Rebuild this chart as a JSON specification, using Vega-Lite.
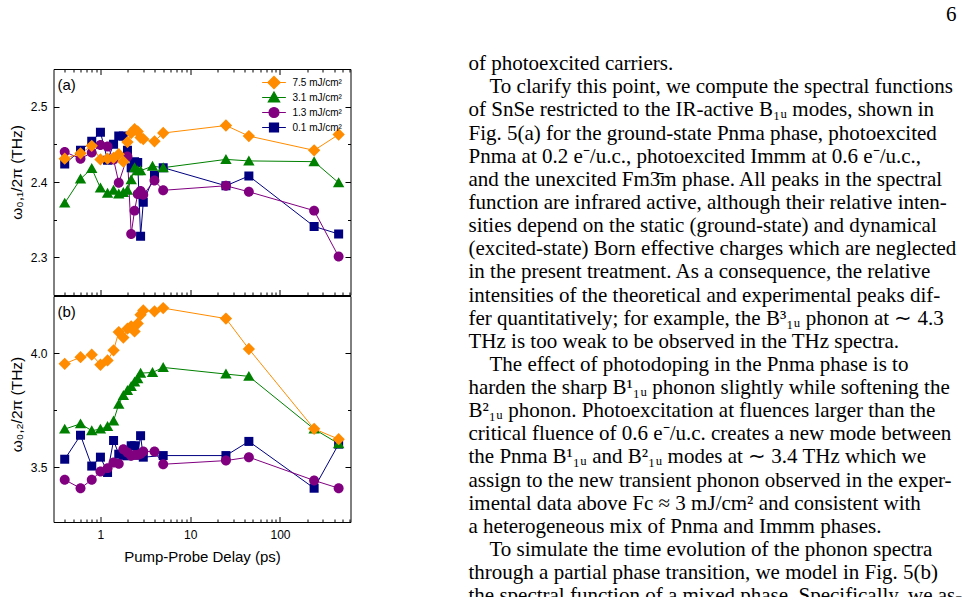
{
  "$schema": "https://vega.github.io/schema/vega-lite/v6.json",
  "background": "white",
  "padding": {"left": 8.5, "top": 0, "right": 0, "bottom": 0},
  "spacing": 117,
  "config": {
    "font": "Liberation Sans",
    "view": {"stroke": "black", "strokeWidth": 1},
    "axis": {
      "domain": false, "grid": false,
      "labelColor": "black", "titleColor": "black", "tickColor": "black", "tickWidth": 1,
      "labelFont": "Liberation Sans", "titleFont": "Liberation Sans",
      "labelFontSize": 12, "titleFontSize": 15, "titleFontWeight": "normal"
    },
    "title": {"font": "Liberation Sans", "fontWeight": "normal", "color": "black"}
  },
  "datasets": {
    "delays": [
      {"delay": 0.4, "fluence": "0.1 mJ/cm²", "w1": 2.424, "w2": 3.535},
      {"delay": 0.6, "fluence": "0.1 mJ/cm²", "w1": 2.442, "w2": 3.640},
      {"delay": 0.8, "fluence": "0.1 mJ/cm²", "w1": 2.454, "w2": 3.505},
      {"delay": 1.0, "fluence": "0.1 mJ/cm²", "w1": 2.466, "w2": 3.544},
      {"delay": 1.2, "fluence": "0.1 mJ/cm²", "w1": 2.429, "w2": 3.477},
      {"delay": 1.4, "fluence": "0.1 mJ/cm²", "w1": 2.450, "w2": 3.617},
      {"delay": 1.6, "fluence": "0.1 mJ/cm²", "w1": 2.461, "w2": 3.557},
      {"delay": 1.8, "fluence": "0.1 mJ/cm²", "w1": 2.461, "w2": 3.552},
      {"delay": 2.0, "fluence": "0.1 mJ/cm²", "w1": 2.442, "w2": 3.550},
      {"delay": 2.2, "fluence": "0.1 mJ/cm²", "w1": 2.419, "w2": 3.594},
      {"delay": 2.4, "fluence": "0.1 mJ/cm²", "w1": 2.427, "w2": 3.594},
      {"delay": 2.6, "fluence": "0.1 mJ/cm²", "w1": 2.426, "w2": 3.553},
      {"delay": 2.8, "fluence": "0.1 mJ/cm²", "w1": 2.328, "w2": 3.638},
      {"delay": 3.0, "fluence": "0.1 mJ/cm²", "w1": 2.373, "w2": 3.544},
      {"delay": 4, "fluence": "0.1 mJ/cm²", "w1": 2.409, "w2": null},
      {"delay": 5, "fluence": "0.1 mJ/cm²", "w1": 2.419, "w2": 3.551},
      {"delay": 25, "fluence": "0.1 mJ/cm²", "w1": 2.395, "w2": 3.551},
      {"delay": 45, "fluence": "0.1 mJ/cm²", "w1": 2.408, "w2": 3.613},
      {"delay": 240, "fluence": "0.1 mJ/cm²", "w1": 2.341, "w2": 3.408},
      {"delay": 450, "fluence": "0.1 mJ/cm²", "w1": 2.331, "w2": 3.601},

      {"delay": 0.4, "fluence": "1.3 mJ/cm²", "w1": 2.440, "w2": 3.445},
      {"delay": 0.6, "fluence": "1.3 mJ/cm²", "w1": 2.431, "w2": 3.408},
      {"delay": 0.8, "fluence": "1.3 mJ/cm²", "w1": 2.439, "w2": 3.445},
      {"delay": 1.0, "fluence": "1.3 mJ/cm²", "w1": 2.449, "w2": 3.481},
      {"delay": 1.2, "fluence": "1.3 mJ/cm²", "w1": 2.447, "w2": 3.496},
      {"delay": 1.4, "fluence": "1.3 mJ/cm²", "w1": 2.430, "w2": 3.521},
      {"delay": 1.6, "fluence": "1.3 mJ/cm²", "w1": 2.399, "w2": 3.515},
      {"delay": 1.8, "fluence": "1.3 mJ/cm²", "w1": null, "w2": 3.579},
      {"delay": 2.0, "fluence": "1.3 mJ/cm²", "w1": 2.434, "w2": 3.564},
      {"delay": 2.2, "fluence": "1.3 mJ/cm²", "w1": 2.331, "w2": 3.550},
      {"delay": 2.4, "fluence": "1.3 mJ/cm²", "w1": 2.362, "w2": 3.554},
      {"delay": 2.6, "fluence": "1.3 mJ/cm²", "w1": 2.384, "w2": 3.554},
      {"delay": 2.8, "fluence": "1.3 mJ/cm²", "w1": 2.388, "w2": 3.559},
      {"delay": 3.0, "fluence": "1.3 mJ/cm²", "w1": 2.383, "w2": 3.569},
      {"delay": 4, "fluence": "1.3 mJ/cm²", "w1": 2.402, "w2": 3.569},
      {"delay": 5, "fluence": "1.3 mJ/cm²", "w1": 2.389, "w2": 3.513},
      {"delay": 25, "fluence": "1.3 mJ/cm²", "w1": 2.395, "w2": 3.529},
      {"delay": 45, "fluence": "1.3 mJ/cm²", "w1": 2.387, "w2": 3.544},
      {"delay": 240, "fluence": "1.3 mJ/cm²", "w1": 2.362, "w2": 3.442},
      {"delay": 450, "fluence": "1.3 mJ/cm²", "w1": 2.301, "w2": 3.408},

      {"delay": 0.4, "fluence": "3.1 mJ/cm²", "w1": 2.372, "w2": 3.667},
      {"delay": 0.6, "fluence": "3.1 mJ/cm²", "w1": 2.404, "w2": 3.690},
      {"delay": 0.8, "fluence": "3.1 mJ/cm²", "w1": 2.418, "w2": 3.660},
      {"delay": 1.0, "fluence": "3.1 mJ/cm²", "w1": 2.392, "w2": 3.667},
      {"delay": 1.2, "fluence": "3.1 mJ/cm²", "w1": 2.385, "w2": 3.678},
      {"delay": 1.4, "fluence": "3.1 mJ/cm²", "w1": 2.389, "w2": 3.703},
      {"delay": 1.6, "fluence": "3.1 mJ/cm²", "w1": 2.384, "w2": 3.776},
      {"delay": 1.8, "fluence": "3.1 mJ/cm²", "w1": 2.386, "w2": 3.814},
      {"delay": 2.0, "fluence": "3.1 mJ/cm²", "w1": 2.389, "w2": 3.836},
      {"delay": 2.2, "fluence": "3.1 mJ/cm²", "w1": 2.403, "w2": 3.854},
      {"delay": 2.4, "fluence": "3.1 mJ/cm²", "w1": 2.419, "w2": 3.873},
      {"delay": 2.6, "fluence": "3.1 mJ/cm²", "w1": 2.415, "w2": 3.888},
      {"delay": 2.8, "fluence": "3.1 mJ/cm²", "w1": 2.415, "w2": 3.912},
      {"delay": 3.8, "fluence": "3.1 mJ/cm²", "w1": 2.421, "w2": 3.915},
      {"delay": 5, "fluence": "3.1 mJ/cm²", "w1": 2.419, "w2": 3.937},
      {"delay": 25, "fluence": "3.1 mJ/cm²", "w1": 2.430, "w2": 3.908},
      {"delay": 45, "fluence": "3.1 mJ/cm²", "w1": 2.428, "w2": 3.898},
      {"delay": 240, "fluence": "3.1 mJ/cm²", "w1": 2.427, "w2": 3.667},
      {"delay": 450, "fluence": "3.1 mJ/cm²", "w1": 2.399, "w2": 3.603},

      {"delay": 0.4, "fluence": "7.5 mJ/cm²", "w1": 2.431, "w2": 3.953},
      {"delay": 0.6, "fluence": "7.5 mJ/cm²", "w1": 2.438, "w2": 3.982},
      {"delay": 0.8, "fluence": "7.5 mJ/cm²", "w1": 2.448, "w2": 3.993},
      {"delay": 1.0, "fluence": "7.5 mJ/cm²", "w1": 2.430, "w2": 3.949},
      {"delay": 1.2, "fluence": "7.5 mJ/cm²", "w1": 2.431, "w2": 3.968},
      {"delay": 1.4, "fluence": "7.5 mJ/cm²", "w1": 2.432, "w2": 4.012},
      {"delay": 1.6, "fluence": "7.5 mJ/cm²", "w1": 2.437, "w2": 4.092},
      {"delay": 1.8, "fluence": "7.5 mJ/cm²", "w1": 2.427, "w2": 4.068},
      {"delay": 2.0, "fluence": "7.5 mJ/cm²", "w1": 2.453, "w2": 4.107},
      {"delay": 2.2, "fluence": "7.5 mJ/cm²", "w1": 2.465, "w2": 4.117},
      {"delay": 2.4, "fluence": "7.5 mJ/cm²", "w1": 2.470, "w2": 4.095},
      {"delay": 2.6, "fluence": "7.5 mJ/cm²", "w1": 2.467, "w2": 4.129},
      {"delay": 2.8, "fluence": "7.5 mJ/cm²", "w1": 2.459, "w2": 4.168},
      {"delay": 3.0, "fluence": "7.5 mJ/cm²", "w1": 2.457, "w2": 4.187},
      {"delay": 4, "fluence": "7.5 mJ/cm²", "w1": 2.454, "w2": 4.183},
      {"delay": 5, "fluence": "7.5 mJ/cm²", "w1": 2.465, "w2": 4.197},
      {"delay": 25, "fluence": "7.5 mJ/cm²", "w1": 2.475, "w2": 4.151},
      {"delay": 45, "fluence": "7.5 mJ/cm²", "w1": 2.461, "w2": 4.018},
      {"delay": 240, "fluence": "7.5 mJ/cm²", "w1": 2.442, "w2": 3.668},
      {"delay": 450, "fluence": "7.5 mJ/cm²", "w1": 2.463, "w2": 3.623}
    ],
    "page": [
      {"line": 0, "text": "of photoexcited carriers."},
      {"line": 1, "text": "\u200b\u2003To clarify this point, we compute the spectral functions"},
      {"line": 2, "text": "of SnSe restricted to the IR-active B₁ᵤ modes, shown in"},
      {"line": 3, "text": "Fig. 5(a) for the ground-state Pnma phase, photoexcited"},
      {"line": 4, "text": "Pnma at 0.2 e⁻/u.c., photoexcited Immm at 0.6 e⁻/u.c.,"},
      {"line": 5, "text": "and the unexcited Fm3̄m phase. All peaks in the spectral"},
      {"line": 6, "text": "function are infrared active, although their relative inten-"},
      {"line": 7, "text": "sities depend on the static (ground-state) and dynamical"},
      {"line": 8, "text": "(excited-state) Born effective charges which are neglected"},
      {"line": 9, "text": "in the present treatment. As a consequence, the relative"},
      {"line": 10, "text": "intensities of the theoretical and experimental peaks dif-"},
      {"line": 11, "text": "fer quantitatively; for example, the B³₁ᵤ phonon at ∼ 4.3"},
      {"line": 12, "text": "THz is too weak to be observed in the THz spectra."},
      {"line": 13, "text": "\u200b\u2003The effect of photodoping in the Pnma phase is to"},
      {"line": 14, "text": "harden the sharp B¹₁ᵤ phonon slightly while softening the"},
      {"line": 15, "text": "B²₁ᵤ phonon. Photoexcitation at fluences larger than the"},
      {"line": 16, "text": "critical fluence of 0.6 e⁻/u.c. creates a new mode between"},
      {"line": 17, "text": "the Pnma B¹₁ᵤ and B²₁ᵤ modes at ∼ 3.4 THz which we"},
      {"line": 18, "text": "assign to the new transient phonon observed in the exper-"},
      {"line": 19, "text": "imental data above Fc ≈ 3 mJ/cm² and consistent with"},
      {"line": 20, "text": "a heterogeneous mix of Pnma and Immm phases."},
      {"line": 21, "text": "\u200b\u2003To simulate the time evolution of the phonon spectra"},
      {"line": 22, "text": "through a partial phase transition, we model in Fig. 5(b)"},
      {"line": 23, "text": "the spectral function of a mixed phase. Specifically, we as-"}
    ]
  },
  "hconcat": [
    {
      "spacing": -2,
      "resolve": {"scale": {"x": "independent", "y": "independent", "color": "independent", "shape": "independent", "stroke": "independent"}},
      "vconcat": [
        {
          "width": 297,
          "height": 226,
          "data": {"name": "delays"},
          "transform": [{"filter": "isValid(datum.w1)"}],
          "resolve": {"scale": {"x": "independent", "y": "independent"}},
          "layer": [
            {
              "layer": [
                {
                  "mark": {"type": "line", "strokeWidth": 1},
                  "encoding": {
                    "x": {
                      "field": "delay", "type": "quantitative",
                      "scale": {"type": "log", "domain": [0.3, 610], "nice": false},
                      "axis": {
                        "values": [0.4, 0.5, 0.6, 0.7, 0.8, 0.9, 1, 2, 3, 4, 5, 6, 7, 8, 9, 10, 20, 30, 40, 50, 60, 70, 80, 90, 100, 200, 300, 400, 500, 600],
                        "labels": false, "title": null,
                        "tickSize": {"condition": {"test": "datum.value == 1 || datum.value == 10 || datum.value == 100", "value": -5.5}, "value": -3},
                        "minExtent": 0, "maxExtent": 0
                      }
                    },
                    "y": {
                      "field": "w1", "type": "quantitative",
                      "scale": {"domain": [2.25, 2.55], "zero": false, "nice": false},
                      "axis": {
                        "values": [2.3, 2.35, 2.4, 2.45, 2.5],
                        "format": ".1f",
                        "labelExpr": "abs(datum.value * 10 - round(datum.value * 10)) < 0.01 ? datum.label : ''",
                        "tickSize": {"condition": {"test": "abs(datum.value * 10 - round(datum.value * 10)) < 0.01", "value": -5.5}, "value": -3},
                        "labelPadding": 12,
                        "title": "ω₀,₁/2π (THz)", "titlePadding": 0, "titleFontSize": 15.5, "titleY": 103,
                        "minExtent": 29, "maxExtent": 29
                      }
                    },
                    "stroke": {
                      "field": "fluence", "type": "nominal",
                      "scale": {"domain": ["7.5 mJ/cm²", "3.1 mJ/cm²", "1.3 mJ/cm²", "0.1 mJ/cm²"], "range": ["#ff8c00", "#008000", "#800080", "#000080"]}
                    }
                  }
                },
                {
                  "mark": {"type": "point", "filled": true, "size": 90, "opacity": 1},
                  "encoding": {
                    "x": {"field": "delay", "type": "quantitative"},
                    "y": {"field": "w1", "type": "quantitative"},
                    "color": {
                      "field": "fluence", "type": "nominal",
                      "scale": {"domain": ["7.5 mJ/cm²", "3.1 mJ/cm²", "1.3 mJ/cm²", "0.1 mJ/cm²"], "range": ["#ff8c00", "#008000", "#800080", "#000080"]},
                      "legend": {
                        "title": null, "orient": "top-right", "offset": 8, "padding": 0,
                        "labelFont": "Liberation Sans", "labelFontSize": 10, "labelColor": "black",
                        "labelOffset": 13, "gridAlign": "all", "rowPadding": -6.8, "symbolSize": 90, "symbolStrokeWidth": 1.2
                      }
                    },
                    "shape": {
                      "field": "fluence", "type": "nominal",
                      "scale": {
                        "domain": ["7.5 mJ/cm²", "3.1 mJ/cm²", "1.3 mJ/cm²", "0.1 mJ/cm²"],
                        "range": [
                          "M0,-1.3L1.3,0L0,1.3L-1.3,0Z M-2.5,0H2.5",
                          "M0,-1.15L1.2,0.95L-1.2,0.95Z M-2.5,0H2.5",
                          "M1.05,0A1.05,1.05,0,1,1,-1.05,0A1.05,1.05,0,1,1,1.05,0Z M-2.5,0H2.5",
                          "M-0.95,-0.95H0.95V0.95H-0.95Z M-2.5,0H2.5"
                        ]
                      }
                    }
                  }
                },
                {
                  "data": {"values": [{"panel": "(a)"}]},
                  "mark": {"type": "text", "align": "left", "baseline": "top", "dx": 4, "dy": 9, "font": "Liberation Sans", "fontSize": 15, "color": "black"},
                  "encoding": {
                    "x": {"datum": 0.3, "type": "quantitative"},
                    "y": {"datum": 2.55, "type": "quantitative"},
                    "text": {"field": "panel", "type": "nominal"}
                  }
                }
              ]
            },
            {
              "mark": {"type": "point", "opacity": 0},
              "encoding": {
                "x": {
                  "field": "delay", "type": "quantitative",
                  "scale": {"type": "log", "domain": [0.3, 610], "nice": false},
                  "axis": {
                    "orient": "top",
                    "values": [0.4, 0.5, 0.6, 0.7, 0.8, 0.9, 1, 2, 3, 4, 5, 6, 7, 8, 9, 10, 20, 30, 40, 50, 60, 70, 80, 90, 100, 200, 300, 400, 500, 600],
                    "labels": false, "title": null,
                    "tickSize": {"condition": {"test": "datum.value == 1 || datum.value == 10 || datum.value == 100", "value": -5.5}, "value": -3},
                    "minExtent": 68.3, "maxExtent": 68.3
                  }
                },
                "y": {
                  "field": "w1", "type": "quantitative",
                  "scale": {"domain": [2.25, 2.55], "zero": false, "nice": false},
                  "axis": {
                    "orient": "right",
                    "values": [2.3, 2.35, 2.4, 2.45, 2.5],
                    "labels": false, "title": null,
                    "tickSize": {"condition": {"test": "abs(datum.value * 10 - round(datum.value * 10)) < 0.01", "value": -5.5}, "value": -3},
                    "minExtent": 0, "maxExtent": 0
                  }
                }
              }
            }
          ]
        },
        {
          "width": 297,
          "height": 226,
          "data": {"name": "delays"},
          "transform": [{"filter": "isValid(datum.w2)"}],
          "resolve": {"scale": {"y": "independent"}},
          "layer": [
            {
              "layer": [
                {
                  "mark": {"type": "line", "strokeWidth": 1},
                  "encoding": {
                    "x": {
                      "field": "delay", "type": "quantitative",
                      "scale": {"type": "log", "domain": [0.3, 610], "nice": false},
                      "axis": {
                        "values": [0.4, 0.5, 0.6, 0.7, 0.8, 0.9, 1, 2, 3, 4, 5, 6, 7, 8, 9, 10, 20, 30, 40, 50, 60, 70, 80, 90, 100, 200, 300, 400, 500, 600],
                        "labelExpr": "datum.value == 1 ? '1' : datum.value == 10 ? '10' : datum.value == 100 ? '100' : ''",
                        "labelOverlap": false, "labelFlush": false,
                        "tickSize": {"condition": {"test": "datum.value == 1 || datum.value == 10 || datum.value == 100", "value": -5.5}, "value": -3},
                        "labelPadding": 12.5,
                        "title": "Pump-Probe Delay (ps)", "titlePadding": 1,
                        "minExtent": 26, "maxExtent": 26
                      }
                    },
                    "y": {
                      "field": "w2", "type": "quantitative",
                      "scale": {"domain": [3.26, 4.25], "zero": false, "nice": false},
                      "axis": {
                        "values": [3.5, 3.75, 4.0],
                        "format": ".1f",
                        "labelExpr": "abs(datum.value * 2 - round(datum.value * 2)) < 0.01 ? datum.label : ''",
                        "tickSize": {"condition": {"test": "abs(datum.value * 2 - round(datum.value * 2)) < 0.01", "value": -5.5}, "value": -3},
                        "labelPadding": 12,
                        "title": "ω₀,₂/2π (THz)", "titlePadding": 0, "titleFontSize": 15.5, "titleY": 108,
                        "minExtent": 29, "maxExtent": 29
                      }
                    },
                    "stroke": {
                      "field": "fluence", "type": "nominal",
                      "scale": {"domain": ["7.5 mJ/cm²", "3.1 mJ/cm²", "1.3 mJ/cm²", "0.1 mJ/cm²"], "range": ["#ff8c00", "#008000", "#800080", "#000080"]},
                      "legend": null
                    }
                  }
                },
                {
                  "mark": {"type": "point", "filled": true, "size": 90, "opacity": 1},
                  "encoding": {
                    "x": {"field": "delay", "type": "quantitative"},
                    "y": {"field": "w2", "type": "quantitative"},
                    "color": {
                      "field": "fluence", "type": "nominal",
                      "scale": {"domain": ["7.5 mJ/cm²", "3.1 mJ/cm²", "1.3 mJ/cm²", "0.1 mJ/cm²"], "range": ["#ff8c00", "#008000", "#800080", "#000080"]},
                      "legend": null
                    },
                    "shape": {
                      "field": "fluence", "type": "nominal",
                      "scale": {
                        "domain": ["7.5 mJ/cm²", "3.1 mJ/cm²", "1.3 mJ/cm²", "0.1 mJ/cm²"],
                        "range": [
                          "M0,-1.3L1.3,0L0,1.3L-1.3,0Z",
                          "M0,-1.15L1.2,0.95L-1.2,0.95Z",
                          "M1.05,0A1.05,1.05,0,1,1,-1.05,0A1.05,1.05,0,1,1,1.05,0Z",
                          "M-0.95,-0.95H0.95V0.95H-0.95Z"
                        ]
                      },
                      "legend": null
                    }
                  }
                },
                {
                  "data": {"values": [{"panel": "(b)"}]},
                  "mark": {"type": "text", "align": "left", "baseline": "top", "dx": 4, "dy": 9, "font": "Liberation Sans", "fontSize": 15, "color": "black"},
                  "encoding": {
                    "x": {"datum": 0.3, "type": "quantitative"},
                    "y": {"datum": 4.25, "type": "quantitative"},
                    "text": {"field": "panel", "type": "nominal"}
                  }
                }
              ]
            },
            {
              "mark": {"type": "point", "opacity": 0},
              "encoding": {
                "x": {"field": "delay", "type": "quantitative"},
                "y": {
                  "field": "w2", "type": "quantitative",
                  "scale": {"domain": [3.26, 4.25], "zero": false, "nice": false},
                  "axis": {
                    "orient": "right",
                    "values": [3.5, 3.75, 4.0],
                    "labels": false, "title": null,
                    "tickSize": {"condition": {"test": "abs(datum.value * 2 - round(datum.value * 2)) < 0.01", "value": -5.5}, "value": -3},
                    "minExtent": 0, "maxExtent": 0
                  }
                }
              }
            }
          ]
        }
      ]
    },
    {
      "width": 488,
      "height": 528.7,
      "view": {"stroke": null},
      "title": {"text": "6", "anchor": "end", "frame": "group", "baseline": "top", "offset": 27.9, "font": "Liberation Serif", "fontSize": 21, "fontWeight": "normal", "color": "black"},
      "data": {"name": "page"},
      "mark": {"type": "text", "align": "left", "baseline": "middle", "font": "Liberation Serif", "fontSize": 21, "color": "black"},
      "encoding": {
        "x": {"value": 0},
        "y": {"field": "line", "type": "quantitative", "scale": {"domain": [0.21, 23.06], "reverse": true, "zero": false, "nice": false}, "axis": null},
        "text": {"field": "text", "type": "nominal"}
      }
    }
  ]
}
